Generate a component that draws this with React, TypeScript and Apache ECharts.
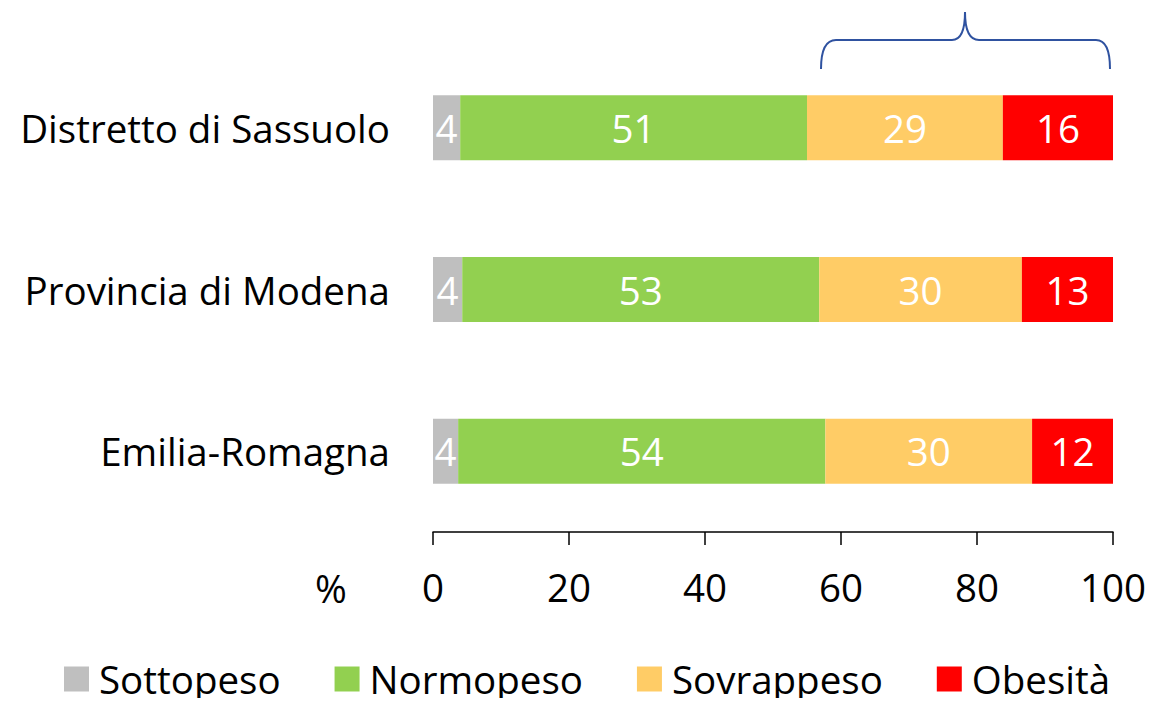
import React, { useEffect, useRef } from "react";
import * as echarts from "echarts";

const categories = ["Distretto di Sassuolo", "Provincia di Modena", "Emilia-Romagna"];
const seriesNames = ["Sottopeso", "Normopeso", "Sovrappeso", "Obesità"];
const sottopeso = [4.0, 4.3, 3.7];
const normopeso = [51.0, 52.5, 54.0];
const sovrappeso = [28.8, 29.8, 30.4];
const obesita = [16.2, 13.4, 11.9];
const xTicks = [0, 20, 40, 60, 80, 100];
const colors = ["#BFBFBF", "#92D050", "#FFCC66", "#FF0000"];

const bracePath =
  "M821,69 C821,52 825,40 836,40 L952,40 C960,40 965,32 965,12 C965,32 970,40 979,40 L1096,40 C1106,40 1110,52 1110,69";

echarts.graphic.registerShape("brace", (echarts.graphic as any).extendPath(bracePath, {}));

const FONT = "Open Sans";
const FS = 38.5;

export default function App() {
  const ref = useRef<HTMLDivElement>(null);
  useEffect(() => {
    if (!ref.current) return;
    const chart = echarts.init(ref.current, null, { renderer: "svg" });
    const values = [sottopeso, normopeso, sovrappeso, obesita];
    chart.setOption({
      animation: false,
      textStyle: { fontFamily: FONT },
      grid: { left: 433, right: 42, top: 47, height: 485, containLabel: false },
      xAxis: {
        type: "value",
        min: xTicks[0],
        max: xTicks[xTicks.length - 1],
        interval: 20,
        splitLine: { show: false },
        axisLine: { show: true, lineStyle: { color: "#000", width: 1.5 } },
        axisTick: { show: true, length: 13, lineStyle: { color: "#000", width: 1.5 } },
        axisLabel: { fontSize: FS, color: "#000", margin: 35, fontFamily: FONT },
      },
      yAxis: {
        type: "category",
        data: categories,
        inverse: true,
        axisLine: { show: false },
        axisTick: { show: false },
        axisLabel: { fontSize: FS, color: "#000", margin: 43, fontFamily: FONT },
      },
      legend: {
        data: seriesNames,
        top: 659,
        left: 64,
        icon: "rect",
        itemWidth: 25,
        itemHeight: 25,
        itemGap: 54,
        padding: 0,
        textStyle: { fontSize: FS, lineHeight: 40, color: "#000", fontFamily: FONT, padding: [0, 0, 0, 5] },
      },
      series: seriesNames.map((name, i) => ({
        name,
        type: "bar",
        stack: "total",
        barWidth: 65,
        data: values[i],
        itemStyle: { color: colors[i] },
        label: {
          show: true,
          position: "inside",
          color: "#fff",
          fontSize: FS,
          fontFamily: FONT,
          formatter: (p: any) => String(Math.round(p.value)),
        },
      })),
      graphic: [
        {
          type: "text",
          left: 315,
          top: 568,
          style: { text: "%", fontSize: FS, fill: "#000", fontFamily: FONT },
        },
        {
          type: "brace",
          x: 0,
          y: 0,
          style: { fill: "none", stroke: "#2F52A0", lineWidth: 2 },
        },
      ],
    });
    return () => chart.dispose();
  }, []);
  return <div ref={ref} style={{ width: 1155, height: 706, margin: -8 }} />;
}
